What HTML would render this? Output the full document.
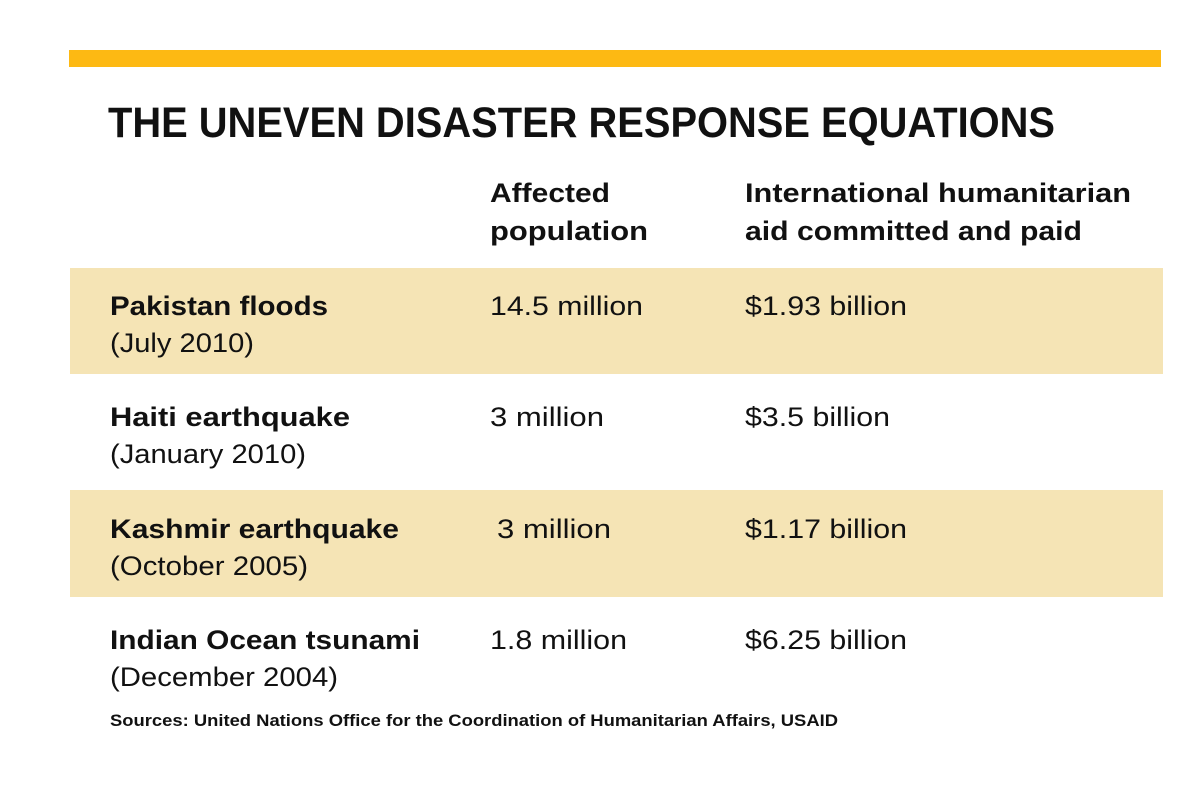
<!DOCTYPE html>
<html><head><meta charset="utf-8"><style>body{margin:0;background:#fff}svg{display:block}text{font-family:"Liberation Sans",sans-serif;fill:#111}</style></head>
<body>
<svg width="1200" height="789" viewBox="0 0 1200 789">
<rect x="69" y="50" width="1092" height="17" fill="#FDB913"/>
<text x="108" y="137" font-size="43" font-weight="bold" textLength="947" lengthAdjust="spacingAndGlyphs">THE UNEVEN DISASTER RESPONSE EQUATIONS</text>
<g font-size="27" font-weight="bold">
<text x="490" y="202" textLength="120" lengthAdjust="spacingAndGlyphs">Affected</text>
<text x="490" y="240" textLength="158" lengthAdjust="spacingAndGlyphs">population</text>
<text x="745" y="202" textLength="386" lengthAdjust="spacingAndGlyphs">International humanitarian</text>
<text x="745" y="240" textLength="337" lengthAdjust="spacingAndGlyphs">aid committed and paid</text>
</g>
<rect x="70" y="268" width="1093" height="106" fill="#F5E4B5"/>
<rect x="70" y="490" width="1093" height="107" fill="#F5E4B5"/>
<g font-size="27">
<text x="110" y="315" font-weight="bold" textLength="218" lengthAdjust="spacingAndGlyphs">Pakistan floods</text>
<text x="110" y="352" textLength="144" lengthAdjust="spacingAndGlyphs">(July 2010)</text>
<text x="490" y="315" textLength="153" lengthAdjust="spacingAndGlyphs">14.5 million</text>
<text x="745" y="315" textLength="162" lengthAdjust="spacingAndGlyphs">$1.93 billion</text>
<text x="110" y="426" font-weight="bold" textLength="240" lengthAdjust="spacingAndGlyphs">Haiti earthquake</text>
<text x="110" y="463" textLength="196" lengthAdjust="spacingAndGlyphs">(January 2010)</text>
<text x="490" y="426" textLength="114" lengthAdjust="spacingAndGlyphs">3 million</text>
<text x="745" y="426" textLength="145" lengthAdjust="spacingAndGlyphs">$3.5 billion</text>
<text x="110" y="538" font-weight="bold" textLength="289" lengthAdjust="spacingAndGlyphs">Kashmir earthquake</text>
<text x="110" y="575" textLength="198" lengthAdjust="spacingAndGlyphs">(October 2005)</text>
<text x="497" y="538" textLength="114" lengthAdjust="spacingAndGlyphs">3 million</text>
<text x="745" y="538" textLength="162" lengthAdjust="spacingAndGlyphs">$1.17 billion</text>
<text x="110" y="649" font-weight="bold" textLength="310" lengthAdjust="spacingAndGlyphs">Indian Ocean tsunami</text>
<text x="110" y="686" textLength="228" lengthAdjust="spacingAndGlyphs">(December 2004)</text>
<text x="490" y="649" textLength="137" lengthAdjust="spacingAndGlyphs">1.8 million</text>
<text x="745" y="649" textLength="162" lengthAdjust="spacingAndGlyphs">$6.25 billion</text>
</g>
<text x="110" y="726" font-size="17" font-weight="bold" textLength="728" lengthAdjust="spacingAndGlyphs">Sources: United Nations Office for the Coordination of Humanitarian Affairs, USAID</text>
</svg>
</body></html>
